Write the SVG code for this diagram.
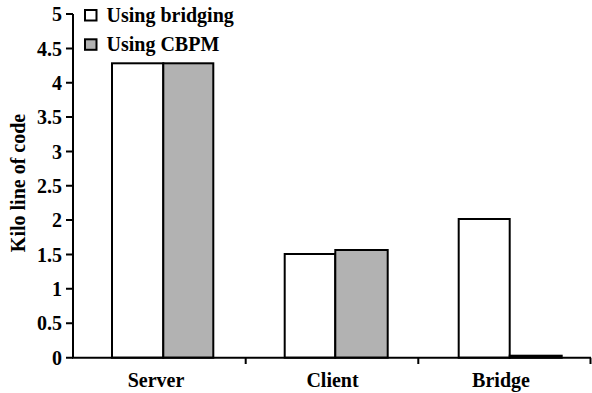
<svg xmlns="http://www.w3.org/2000/svg" width="592" height="393" viewBox="0 0 592 393">
  <style>
    text { font-family: "Liberation Serif", "Times New Roman", Times, Tinos, "Noto Serif", FreeSerif, "Nimbus Roman", "DejaVu Serif", serif; font-weight: bold; font-size: 20px; fill: #000; }
    .tick { text-anchor: end; }
    .cat { text-anchor: middle; }
    .axis { stroke: #000; stroke-width: 2; fill: none; }
    .bar-a { fill: #fff; stroke: #000; stroke-width: 2; }
    .bar-b { fill: #b2b2b2; stroke: #000; stroke-width: 2; }
  </style>
  <rect width="592" height="393" fill="#fff"/>

  <!-- y axis label -->
  <text id="y-label" transform="translate(25 183) rotate(-90)" text-anchor="middle">Kilo line of code</text>

  <!-- y tick labels: 0..5 at 68.7 px per unit, zero at y=357.7 -->
  <g id="y-ticks">
    <text class="tick" x="62" y="364.7">0</text>
    <text class="tick" x="62" y="330.3">0.5</text>
    <text class="tick" x="62" y="296">1</text>
    <text class="tick" x="62" y="261.6">1.5</text>
    <text class="tick" x="62" y="227.3">2</text>
    <text class="tick" x="62" y="192.9">2.5</text>
    <text class="tick" x="62" y="158.6">3</text>
    <text class="tick" x="62" y="124.2">3.5</text>
    <text class="tick" x="62" y="89.9">4</text>
    <text class="tick" x="62" y="55.5">4.5</text>
    <text class="tick" x="62" y="21.2">5</text>
  </g>

  <!-- bars -->
  <g id="server">
    <rect class="bar-a" x="112" y="63.3" width="51.3" height="294.4"/>
    <rect class="bar-b" x="163.3" y="63.3" width="50" height="294.4"/>
    <text class="cat" x="156" y="386.5">Server</text>
  </g>
  <g id="client">
    <rect class="bar-a" x="284.7" y="254" width="50.6" height="103.7"/>
    <rect class="bar-b" x="335.3" y="250" width="52.4" height="107.7"/>
    <text class="cat" x="332.5" y="386.5">Client</text>
  </g>
  <g id="bridge">
    <rect class="bar-a" x="458.7" y="219" width="51" height="138.7"/>
    <rect class="bar-b" x="509.7" y="355.7" width="52" height="2"/>
    <text class="cat" x="501" y="386.5">Bridge</text>
  </g>

  <!-- legend -->
  <g id="legend">
    <rect class="bar-a" x="85" y="10" width="11.5" height="10.5"/>
    <text x="106.5" y="21.5">Using bridging</text>
    <rect class="bar-b" x="85" y="39.3" width="11.5" height="10.5"/>
    <text x="106.5" y="50.5">Using CBPM</text>
  </g>

  <!-- axes and tick marks -->
  <g id="axes">
    <path class="axis" d="M73 14 V358.7 M73 357.7 H591"/>
    <path class="axis" d="M66 14 H73 M66 48.4 H73 M66 82.7 H73 M66 117.1 H73 M66 151.4 H73 M66 185.8 H73 M66 220.1 H73 M66 254.5 H73 M66 288.8 H73 M66 323.2 H73 M66 357.7 H73"/>
    <path class="axis" d="M245.7 357.7 V364 M418.3 357.7 V364 M590.5 357.7 V364"/>
  </g>
</svg>
